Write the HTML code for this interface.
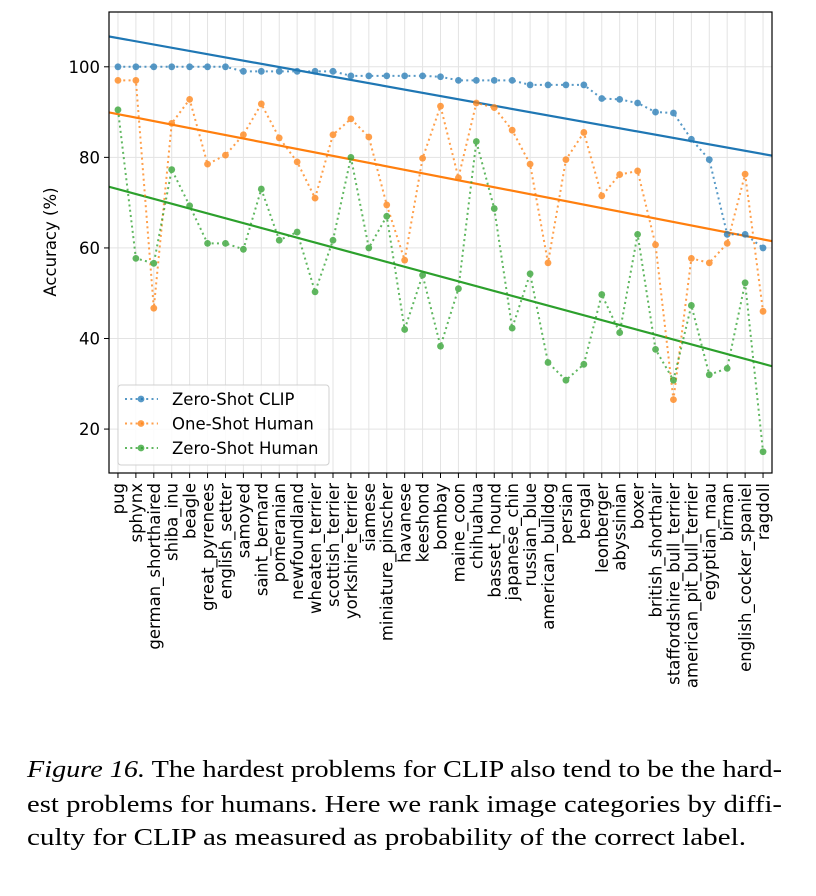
<!DOCTYPE html>
<html><head><meta charset="utf-8"><style>
html,body{margin:0;padding:0;background:#fff;}
svg{display:block;}
</style></head><body>
<svg id="chart" width="816" height="896" xmlns="http://www.w3.org/2000/svg" font-family="'DejaVu Sans', 'Liberation Sans', sans-serif"></svg>
<script>
const categories = ["pug","sphynx","german_shorthaired","shiba_inu","beagle","great_pyrenees","english_setter","samoyed","saint_bernard","pomeranian","newfoundland","wheaten_terrier","scottish_terrier","yorkshire_terrier","siamese","miniature_pinscher","havanese","keeshond","bombay","maine_coon","chihuahua","basset_hound","japanese_chin","russian_blue","american_bulldog","persian","bengal","leonberger","abyssinian","boxer","british_shorthair","staffordshire_bull_terrier","american_pit_bull_terrier","egyptian_mau","birman","english_cocker_spaniel","ragdoll"];
const clipValues = [100,100,100,100,100,100,100,99,99,99,99,99,99,98,98,98,98,98,97.8,97,97,97,97,96,96,96,96,93,92.8,92,90,89.8,84,79.5,63,63,60];
const oneShotValues = [97,97,46.7,87.5,92.8,78.5,80.5,85,91.8,84.3,79,71,85,88.5,84.5,69.5,57.3,79.8,91.3,75.5,92,91,86,78.5,56.7,79.5,85.5,71.5,76.2,77,60.7,26.5,57.7,56.7,61,76.3,46];
const zeroShotValues = [90.5,57.7,56.6,77.3,69.3,61,61,59.7,73,61.7,63.5,50.3,61.7,80,60,67,42,54,38.3,51,83.5,68.7,42.3,54.3,34.7,30.8,34.3,49.7,41.3,63,37.6,30.8,47.3,32,33.4,52.3,15];
const yTicks = [20,40,60,80,100];
const seriesNames = ["Zero-Shot CLIP","One-Shot Human","Zero-Shot Human"];

const NS="http://www.w3.org/2000/svg";
const svg=document.getElementById('chart');
const L=109,R=772,T=12,B=473;
const FS=16.5;
const xMin=-0.5,xMax=categories.length-0.5,yMin=10.3,yMax=112.1;
function xs(i){return L+(i-xMin)/(xMax-xMin)*(R-L);}
function ys(v){return B-(v-yMin)/(yMax-yMin)*(B-T);}
function mk(tag,attrs,parent){const e=document.createElementNS(NS,tag);for(const k in attrs)e.setAttribute(k,attrs[k]);(parent||svg).appendChild(e);return e;}

const defs=mk('defs',{});
const cp=mk('clipPath',{id:'plotclip'},defs);
mk('rect',{x:L,y:T,width:R-L,height:B-T},cp);

const grid=mk('g',{});


categories.forEach((c,i)=>{mk('line',{x1:xs(i),x2:xs(i),y1:T,y2:B,stroke:'#e3e3e3','stroke-width':1},grid);});
yTicks.forEach(v=>{mk('line',{x1:L,x2:R,y1:ys(v),y2:ys(v),stroke:'#e3e3e3','stroke-width':1},grid);});

const plot=mk('g',{'clip-path':'url(#plotclip)'});
const colors=['#1f77b4','#ff7f0e','#2ca02c'];
const allSeries=[clipValues,oneShotValues,zeroShotValues];
const sNames=['clip','one-shot-human','zero-shot-human'];

allSeries.forEach((vals,s)=>{
  const n=vals.length;let sx=0,sy=0,sxx=0,sxy=0;
  vals.forEach((v,i)=>{sx+=i;sy+=v;sxx+=i*i;sxy+=i*v;});
  const m=(n*sxy-sx*sy)/(n*sxx-sx*sx),b=(sy-m*sx)/n;
  const ln=mk('line',{x1:xs(xMin),y1:ys(m*xMin+b),x2:xs(xMax),y2:ys(m*xMax+b),stroke:colors[s],'stroke-width':2.2},plot);
  
  
});
allSeries.forEach((vals,s)=>{
  const g=mk('g',{opacity:0.75},plot);
  
  
  const pts=vals.map((v,i)=>xs(i)+','+ys(v)).join(' ');
  mk('polyline',{points:pts,fill:'none',stroke:colors[s],'stroke-width':2,'stroke-dasharray':'2 3.3'},g);
  vals.forEach((v,i)=>{
    const c=mk('circle',{cx:xs(i),cy:ys(v),r:3.4,fill:colors[s]},g);
    
    
  });
});

const frame=mk('rect',{x:L,y:T,width:R-L,height:B-T,fill:'none',stroke:'#000','stroke-width':1.2});



yTicks.forEach(v=>{
  mk('line',{x1:L-5,x2:L,y1:ys(v),y2:ys(v),stroke:'#000','stroke-width':1});
  const t=mk('text',{x:L-9,y:ys(v)+6,'text-anchor':'end','font-size':FS,fill:'#000'});
  t.textContent=v;
  
  
});
const yt=mk('text',{transform:'translate(56,242) rotate(-90)','text-anchor':'middle','font-size':FS,fill:'#000'});
yt.textContent='Accuracy (%)';



categories.forEach((c,i)=>{
  mk('line',{x1:xs(i),x2:xs(i),y1:B,y2:B+5,stroke:'#000','stroke-width':1});
  const t=mk('text',{transform:'translate('+(xs(i)+6)+','+(B+10)+') rotate(-90)','text-anchor':'end','font-size':FS,fill:'#000'});
  t.textContent=c;
  
  
});

const lg=mk('g',{});


mk('rect',{x:118,y:385,width:211,height:80,rx:3,fill:'#fff','fill-opacity':0.85,stroke:'#d0d0d0','stroke-width':1},lg);
seriesNames.forEach((nm,s)=>{
  const y=399+s*24.5;
  const e=mk('g',{},lg);
  
  
  mk('line',{x1:125,x2:158,y1:y,y2:y,stroke:colors[s],'stroke-width':2,'stroke-dasharray':'2 3.3',opacity:0.75},e);
  mk('circle',{cx:141,cy:y,r:3.4,fill:colors[s],opacity:0.75},e);
  const t=mk('text',{x:172,y:y+6,'font-size':FS,fill:'#000'},e);
  t.textContent=nm;
});

const cap=mk('g',{'font-family':"'Liberation Serif', serif",'font-size':24,fill:'#000'});


const l1=mk('text',{x:27,y:777,textLength:755,lengthAdjust:'spacingAndGlyphs'},cap);
const it=mk('tspan',{'font-style':'italic'},l1);it.textContent='Figure 16.';
const r1=mk('tspan',{},l1);r1.textContent=' The hardest problems for CLIP also tend to be the hard-';
const l2=mk('text',{x:27,y:812,textLength:755,lengthAdjust:'spacingAndGlyphs'},cap);
l2.textContent='est problems for humans. Here we rank image categories by diffi-';
const l3=mk('text',{x:27,y:845,textLength:719,lengthAdjust:'spacingAndGlyphs'},cap);
l3.textContent='culty for CLIP as measured as probability of the correct label.';
</script>
</body></html>
